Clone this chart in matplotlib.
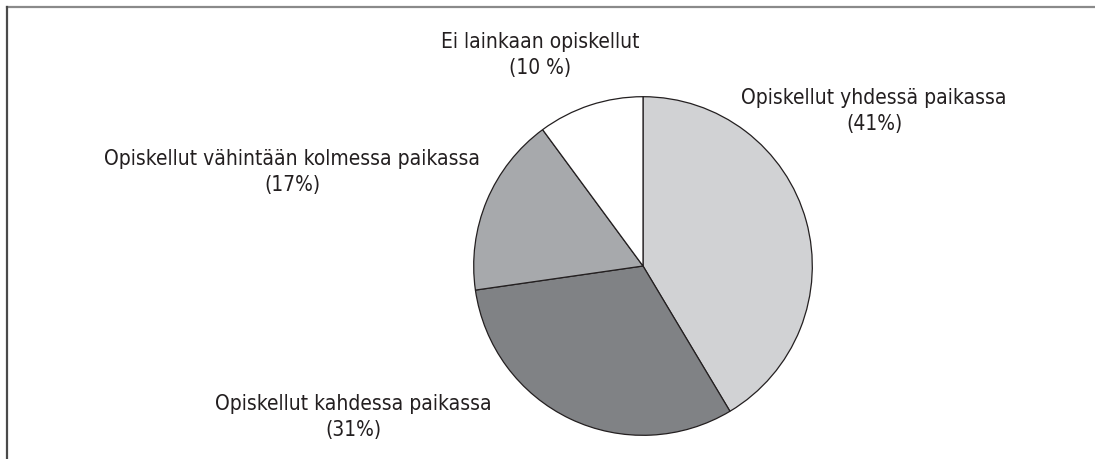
import matplotlib
matplotlib.use("Agg")
import matplotlib.pyplot as plt
from matplotlib.lines import Line2D

plt.rcParams["font.family"] = ["DejaVu Sans"]

# 数据（顺时针，从顶部开始）
labels = [
    "Opiskellut yhdessä paikassa\n(41%)",
    "Opiskellut kahdessa paikassa\n(31%)",
    "Opiskellut vähintään kolmessa paikassa\n(17%)",
    "Ei lainkaan opiskellut\n(10 %)",
]
shares = [41, 31, 17, 10]
colors = ["#d1d2d4", "#808285", "#a7a9ac", "#ffffff"]
# 标签位置（像素，图左上角为原点）
label_pos = [(874, 111), (353, 417), (292, 172), (540, 55)]

W, H = 1095, 459
fig = plt.figure(figsize=(W / 100, H / 100), dpi=100)

# 饼图
cx, cy, r = 643, 266, 171
ax = fig.add_axes([(cx - r) / W, (H - cy - r) / H, 2 * r / W, 2 * r / H])
ax.pie(
    shares,
    colors=colors,
    startangle=90,
    counterclock=False,
    radius=1,
    wedgeprops=dict(edgecolor="#231f20", linewidth=0.9),
)
ax.set_xlim(-1.01, 1.01)
ax.set_ylim(-1.01, 1.01)
ax.set_aspect("equal")
ax.axis("off")

for text, (x, y) in zip(labels, label_pos):
    fig.text(x / W, 1 - y / H, text, ha="center", va="center",
             fontsize=15, fontstretch="condensed", color="#231f20",
             linespacing=1.35)

# 边框（上、左）
fig.add_artist(Line2D([7 / W, 1], [1 - 7 / H, 1 - 7 / H],
                      transform=fig.transFigure, color="#8a8a8a", lw=1.6))
fig.add_artist(Line2D([7 / W, 7 / W], [0, 1 - 7 / H],
                      transform=fig.transFigure, color="#4a4a4a", lw=1.6))

fig.savefig("out.png", dpi=100)
